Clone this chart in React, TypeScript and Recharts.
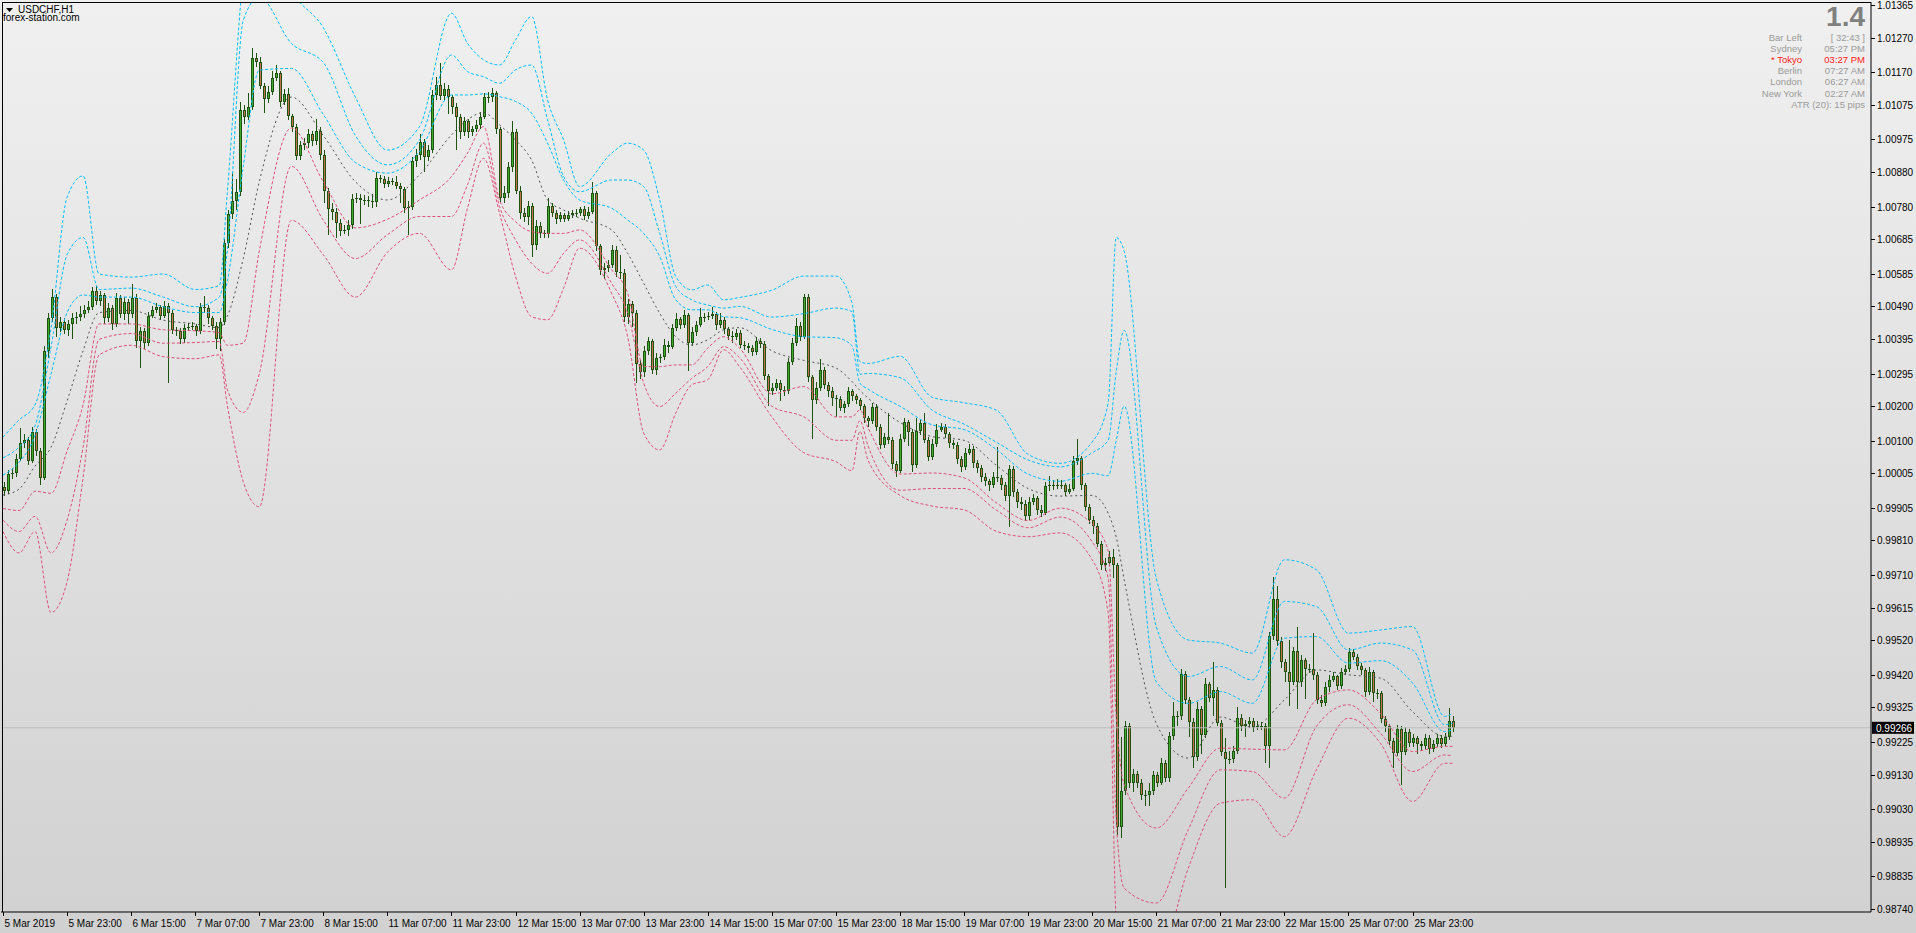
import React from "react";
import { Bar, ComposedChart, Line, ReferenceLine, XAxis, YAxis } from "recharts";

// USDCHF H1, 5 Mar - 26 Mar 2019. Prices are in points (1e-5).
const opens = [
  99964, 99953, 100003, 100005, 100048, 100093, 100101, 100042, 100126, 100070,
  99992, 100361, 100456, 100517, 100428, 100444, 100422, 100439, 100456, 100460,
  100467, 100478, 100489, 100534, 100506, 100523, 100456, 100486, 100439, 100515,
  100467, 100504, 100467, 100515, 100388, 100419, 100385, 100463, 100478, 100489,
  100463, 100492, 100472, 100422, 100419, 100394, 100428, 100430, 100433, 100419,
  100489, 100486, 100456, 100433, 100394, 100444, 100673, 100757, 100796, 100821,
  101059, 101040, 101070, 101212, 101200, 101131, 101092, 101114, 101154, 101167,
  101084, 101107, 101042, 101011, 100928, 100958, 100964, 100992, 100969, 101000,
  100930, 100824, 100774, 100763, 100732, 100709, 100712, 100727, 100802, 100804,
  100798, 100800, 100796, 100792, 100862, 100860, 100846, 100853, 100852, 100840,
  100830, 100775, 100778, 100911, 100930, 100966, 100923, 100944, 101104, 101133,
  101101, 101121, 101097, 101068, 101041, 100995, 101027, 100995, 101004, 101017,
  101041, 101097, 101099, 101109, 101004, 100804, 100819, 100896, 100996, 100826,
  100762, 100749, 100782, 100669, 100724, 100702, 100700, 100782, 100762, 100743,
  100756, 100745, 100756, 100761, 100762, 100772, 100753, 100765, 100819, 100664,
  100596, 100600, 100610, 100654, 100591, 100588, 100460, 100497, 100472, 100323,
  100298, 100359, 100388, 100306, 100340, 100342, 100378, 100371, 100427, 100453,
  100436, 100465, 100385, 100417, 100436, 100459, 100458, 100461, 100468, 100436,
  100451, 100424, 100404, 100400, 100414, 100378, 100374, 100368, 100357, 100389,
  100381, 100288, 100243, 100254, 100267, 100246, 100244, 100329, 100384, 100433,
  100402, 100516, 100285, 100218, 100254, 100306, 100262, 100243, 100223, 100222,
  100195, 100205, 100243, 100229, 100218, 100200, 100167, 100156, 100198, 100140,
  100086, 100110, 100101, 100032, 100013, 100104, 100153, 100125, 100029, 100127,
  100151, 100101, 100053, 100091, 100132, 100140, 100119, 100094, 100088, 100046,
  100024, 100065, 100077, 100036, 100021, 99995, 99982, 99970, 99995, 99992,
  99972, 99939, 100018, 99951, 99922, 99915, 99880, 99922, 99932, 99899,
  99891, 99967, 99970, 99971, 99969, 99972, 99951, 99961, 100042, 100049,
  99970, 99907, 99870, 99852, 99801, 99738, 99746, 99761, 99739, 98977,
  99081, 99272, 99107, 99132, 99107, 99071, 99072, 99081, 99129, 99107,
  99165, 99120, 99241, 99299, 99301, 99423, 99347, 99284, 99181, 99320,
  99246, 99394, 99352, 99376, 99281, 99197, 99175, 99174, 99199, 99294,
  99270, 99277, 99287, 99268, 99272, 99271, 99212, 99533, 99639, 99519,
  99456, 99429, 99400, 99488, 99400, 99463, 99436, 99437, 99420, 99347,
  99337, 99384, 99405, 99415, 99388, 99427, 99436, 99485, 99473, 99446,
  99434, 99371, 99429, 99366, 99367, 99291, 99270, 99229, 99194, 99262,
  99197, 99255, 99221, 99236, 99219, 99214, 99236, 99204, 99219, 99236,
  99219, 99239, 99287,
];

const highs = [
  99980, 100015, 100020, 100060, 100137, 100118, 100110, 100140, 100135, 100080,
  100375, 100470, 100539, 100525, 100460, 100455, 100450, 100470, 100475, 100490,
  100495, 100505, 100545, 100548, 100535, 100530, 100500, 100495, 100528, 100522,
  100518, 100512, 100556, 100525, 100430, 100428, 100475, 100490, 100500, 100495,
  100505, 100500, 100480, 100430, 100428, 100440, 100442, 100445, 100440, 100500,
  100520, 100495, 100462, 100445, 100455, 100685, 100770, 100880, 100860, 101085,
  101075, 101110, 101241, 101225, 101215, 101140, 101130, 101175, 101190, 101175,
  101120, 101125, 101050, 101020, 100970, 100980, 101005, 101000, 101033, 101010,
  100945, 100835, 100790, 100775, 100745, 100725, 100740, 100815, 100818, 100815,
  100812, 100810, 100815, 100880, 100872, 100868, 100865, 100862, 100868, 100848,
  100838, 100795, 100925, 100948, 100990, 100975, 100960, 101118, 101155, 101196,
  101140, 101132, 101105, 101080, 101050, 101040, 101035, 101015, 101030, 101055,
  101110, 101112, 101125, 101115, 101010, 100840, 100910, 101027, 101005, 100840,
  100775, 100795, 100790, 100740, 100735, 100712, 100805, 100790, 100770, 100765,
  100762, 100768, 100770, 100772, 100780, 100782, 100778, 100850, 100825, 100672,
  100615, 100625, 100668, 100665, 100640, 100598, 100510, 100505, 100480, 100335,
  100375, 100400, 100395, 100355, 100352, 100395, 100388, 100440, 100470, 100460,
  100478, 100470, 100430, 100448, 100485, 100470, 100475, 100488, 100475, 100470,
  100460, 100430, 100418, 100425, 100420, 100388, 100385, 100378, 100402, 100398,
  100390, 100295, 100268, 100280, 100275, 100258, 100340, 100398, 100455, 100445,
  100527, 100527, 100292, 100270, 100338, 100315, 100270, 100255, 100232, 100230,
  100215, 100255, 100250, 100235, 100225, 100205, 100172, 100210, 100205, 100148,
  100122, 100180, 100110, 100040, 100118, 100165, 100160, 100135, 100165, 100162,
  100180, 100110, 100104, 100148, 100152, 100148, 100125, 100102, 100095, 100055,
  100078, 100090, 100085, 100045, 100030, 100005, 99990, 100010, 100081, 100000,
  99980, 100030, 100025, 99960, 99935, 99928, 99935, 99945, 99940, 99912,
  99980, 99998, 99985, 99990, 99985, 99978, 99975, 100055, 100106, 100056,
  99978, 99915, 99880, 99862, 99808, 99760, 99780, 99785, 99745, 99240,
  99285, 99280, 99145, 99140, 99118, 99085, 99105, 99140, 99138, 99178,
  99172, 99255, 99340, 99315, 99436, 99430, 99355, 99295, 99340, 99330,
  99410, 99400, 99458, 99385, 99290, 99235, 99200, 99212, 99325, 99305,
  99290, 99298, 99295, 99285, 99282, 99280, 99545, 99705, 99678, 99530,
  99465, 99520, 99500, 99560, 99478, 99470, 99450, 99541, 99428, 99360,
  99398, 99418, 99428, 99420, 99440, 99448, 99498, 99495, 99480, 99455,
  99440, 99442, 99435, 99380, 99372, 99300, 99278, 99235, 99275, 99270,
  99268, 99262, 99248, 99242, 99228, 99248, 99245, 99232, 99248, 99245,
  99252, 99323, 99300,
];

const lows = [
  99940, 99945, 99990, 99995, 100040, 100080, 100030, 100035, 100055, 99970,
  99985, 100340, 100445, 100400, 100415, 100410, 100405, 100395, 100440, 100448,
  100455, 100470, 100480, 100495, 100490, 100440, 100445, 100420, 100430, 100455,
  100450, 100440, 100455, 100370, 100310, 100365, 100375, 100455, 100470, 100450,
  100455, 100266, 100410, 100405, 100380, 100385, 100418, 100420, 100405, 100410,
  100470, 100440, 100420, 100365, 100360, 100435, 100660, 100745, 100770, 100810,
  101020, 101030, 101060, 101185, 101120, 101053, 101080, 101105, 101145, 101070,
  101075, 101030, 100995, 100915, 100915, 100945, 100950, 100955, 100960, 100915,
  100790, 100696, 100740, 100690, 100695, 100700, 100695, 100715, 100790, 100730,
  100785, 100780, 100775, 100780, 100848, 100835, 100838, 100843, 100830, 100790,
  100760, 100698, 100770, 100895, 100915, 100880, 100912, 100935, 101090, 101088,
  101090, 101050, 101050, 100943, 100975, 100985, 100978, 100985, 100995, 101005,
  101035, 101082, 101085, 100990, 100790, 100790, 100805, 100880, 100815, 100745,
  100735, 100725, 100633, 100655, 100690, 100688, 100690, 100750, 100730, 100735,
  100735, 100738, 100748, 100750, 100752, 100742, 100745, 100758, 100650, 100580,
  100570, 100590, 100600, 100575, 100570, 100445, 100440, 100430, 100267, 100280,
  100285, 100350, 100295, 100290, 100325, 100335, 100355, 100365, 100418, 100425,
  100428, 100301, 100375, 100405, 100430, 100445, 100450, 100452, 100420, 100428,
  100410, 100392, 100385, 100392, 100368, 100362, 100355, 100345, 100350, 100370,
  100275, 100200, 100232, 100245, 100215, 100230, 100235, 100320, 100375, 100388,
  100395, 100270, 100106, 100205, 100245, 100250, 100228, 100200, 100168, 100185,
  100180, 100198, 100215, 100205, 100188, 100150, 100140, 100148, 100128, 100075,
  100078, 100090, 100018, 99995, 100005, 100095, 100085, 100010, 100020, 100115,
  100092, 100040, 100045, 100082, 100125, 100108, 100080, 100075, 100032, 100010,
  100015, 100058, 100020, 100005, 99980, 99968, 99955, 99962, 99980, 99958,
  99925, 99849, 99935, 99905, 99900, 99868, 99870, 99912, 99885, 99878,
  99885, 99955, 99958, 99960, 99960, 99940, 99945, 99955, 100030, 99958,
  99895, 99858, 99830, 99790, 99725, 99720, 99735, 99700, 98955, 98946,
  99070, 99090, 99080, 99090, 99055, 99040, 99040, 99070, 99095, 99100,
  99108, 99110, 99230, 99270, 99290, 99335, 99240, 99150, 99170, 99190,
  99235, 99340, 99300, 99270, 99185, 98800, 99160, 99165, 99190, 99258,
  99240, 99265, 99255, 99260, 99260, 99165, 99150, 99520, 99505, 99440,
  99400, 99330, 99390, 99320, 99385, 99350, 99425, 99405, 99335, 99325,
  99330, 99370, 99398, 99375, 99380, 99418, 99428, 99462, 99435, 99420,
  99355, 99360, 99340, 99350, 99280, 99255, 99215, 99150, 99185, 99100,
  99188, 99210, 99210, 99190, 99200, 99205, 99190, 99196, 99210, 99208,
  99212, 99232, 99255,
];

const closes = [
  99953, 100003, 100005, 100048, 100093, 100101, 100042, 100126, 100070, 99992,
  100361, 100456, 100517, 100428, 100444, 100422, 100439, 100456, 100460, 100467,
  100478, 100489, 100534, 100506, 100523, 100456, 100486, 100439, 100515, 100467,
  100504, 100467, 100515, 100388, 100419, 100385, 100463, 100478, 100489, 100463,
  100492, 100472, 100422, 100419, 100394, 100428, 100430, 100433, 100419, 100489,
  100486, 100456, 100433, 100394, 100444, 100673, 100757, 100796, 100821, 101059,
  101040, 101070, 101212, 101200, 101131, 101092, 101114, 101154, 101167, 101084,
  101107, 101042, 101011, 100928, 100958, 100964, 100992, 100969, 101000, 100930,
  100824, 100774, 100763, 100732, 100709, 100712, 100727, 100802, 100804, 100798,
  100800, 100796, 100792, 100862, 100860, 100846, 100853, 100852, 100840, 100830,
  100775, 100778, 100911, 100930, 100966, 100923, 100944, 101104, 101133, 101101,
  101121, 101097, 101068, 101041, 100995, 101027, 100995, 101004, 101017, 101041,
  101097, 101099, 101109, 101004, 100804, 100819, 100896, 100996, 100826, 100762,
  100749, 100782, 100669, 100724, 100702, 100700, 100782, 100762, 100743, 100756,
  100745, 100756, 100761, 100762, 100772, 100753, 100765, 100819, 100664, 100596,
  100600, 100610, 100654, 100591, 100588, 100460, 100497, 100472, 100323, 100298,
  100359, 100388, 100306, 100340, 100342, 100378, 100371, 100427, 100453, 100436,
  100465, 100385, 100417, 100436, 100459, 100458, 100461, 100468, 100436, 100451,
  100424, 100404, 100400, 100414, 100378, 100374, 100368, 100357, 100389, 100381,
  100288, 100243, 100254, 100267, 100246, 100244, 100329, 100384, 100433, 100402,
  100516, 100285, 100218, 100254, 100306, 100262, 100243, 100223, 100222, 100195,
  100205, 100243, 100229, 100218, 100200, 100167, 100156, 100198, 100140, 100086,
  100110, 100101, 100032, 100013, 100104, 100153, 100125, 100029, 100127, 100151,
  100101, 100053, 100091, 100132, 100140, 100119, 100094, 100088, 100046, 100024,
  100065, 100077, 100036, 100021, 99995, 99982, 99970, 99995, 99992, 99972,
  99939, 100018, 99951, 99922, 99915, 99880, 99922, 99932, 99899, 99891,
  99967, 99970, 99971, 99969, 99972, 99951, 99961, 100042, 100049, 99970,
  99907, 99870, 99852, 99801, 99738, 99746, 99761, 99739, 98977, 99081,
  99272, 99107, 99132, 99107, 99071, 99072, 99081, 99129, 99107, 99165,
  99120, 99241, 99299, 99301, 99423, 99347, 99284, 99181, 99320, 99246,
  99394, 99352, 99376, 99281, 99197, 99175, 99174, 99199, 99294, 99270,
  99277, 99287, 99268, 99272, 99271, 99212, 99533, 99639, 99519, 99456,
  99429, 99400, 99488, 99400, 99463, 99436, 99437, 99420, 99347, 99337,
  99384, 99405, 99415, 99388, 99427, 99436, 99485, 99473, 99446, 99434,
  99371, 99429, 99366, 99367, 99291, 99270, 99229, 99194, 99262, 99197,
  99255, 99221, 99236, 99219, 99214, 99236, 99204, 99219, 99236, 99219,
  99239, 99287, 99266,
];

// band indicator, read at these bar indices
const bandIdx = [
  0, 4, 8, 12, 16, 20, 24, 32, 40, 48,
  54, 56, 60, 64, 72, 80, 88, 96, 104, 112,
  116, 120, 124, 128, 132, 136, 140, 144, 152, 156,
  160, 164, 168, 172, 176, 180, 184, 192, 200, 208,
  212, 214, 216, 224, 232, 240, 248, 256, 264, 272,
  276, 278, 280, 288, 296, 304, 312, 320, 328, 336,
  344, 352, 360, 362,
];
const upper3 = [
  100110, 100160, 100204, 100428, 100807, 100869, 100584, 100575, 100584, 100539,
  100550, 100818, 101450, 101656, 101410, 101299, 101098, 100944, 101012, 101341,
  101254, 101206, 101191, 101264, 101332, 101090, 100973, 100838, 100935, 100964,
  100944, 100799, 100577, 100538, 100552, 100509, 100516, 100537, 100578, 100578,
  100501, 100329, 100324, 100345, 100226, 100210, 100189, 100060, 100034, 100096,
  100210, 100690, 100650, 99700, 99521, 99512, 99483, 99754, 99725, 99541,
  99550, 99560, 99299, 99308,
];
const upper2 = [
  100050, 100081, 100143, 100372, 100640, 100690, 100539, 100543, 100517, 100489,
  100517, 100651, 101321, 101388, 101254, 101198, 100986, 100901, 100973, 101220,
  101172, 101157, 101138, 101177, 101191, 101032, 100867, 100823, 100857, 100857,
  100838, 100702, 100548, 100509, 100494, 100485, 100490, 100459, 100469, 100485,
  100475, 100293, 100295, 100283, 100189, 100148, 100096, 100044, 100024, 100065,
  100101, 100300, 100420, 99560, 99415, 99444, 99405, 99633, 99618, 99492,
  99512, 99492, 99275, 99279,
];
const upper1 = [
  100000, 100037, 100115, 100294, 100472, 100523, 100517, 100517, 100489, 100472,
  100472, 100562, 100897, 101176, 101181, 101047, 100908, 100877, 100940, 101104,
  101104, 101107, 101099, 101085, 101051, 100964, 100857, 100799, 100775, 100741,
  100702, 100635, 100509, 100480, 100480, 100460, 100457, 100423, 100402, 100399,
  100376, 100267, 100250, 100200, 100146, 100132, 100075, 100003, 99982, 100005,
  99998, 100100, 100200, 99400, 99337, 99371, 99337, 99526, 99531, 99454,
  99461, 99396, 99255, 99260,
];
const middle = [
  99942, 99959, 100026, 100081, 100215, 100361, 100472, 100478, 100450, 100439,
  100428, 100461, 100629, 100852, 101098, 100986, 100852, 100799, 100872, 100988,
  101032, 101053, 101017, 100973, 100915, 100799, 100770, 100746, 100712, 100644,
  100557, 100470, 100402, 100378, 100393, 100422, 100428, 100361, 100333, 100311,
  100272, 100246, 100224, 100153, 100112, 100101, 100029, 99961, 99939, 99941,
  99889, 99820, 99696, 99279, 99178, 99297, 99268, 99347, 99434, 99420,
  99410, 99313, 99241, 99241,
];
const lower1 = [
  99903, 99897, 99953, 99947, 100070, 100204, 100439, 100439, 100422, 100419,
  100414, 100377, 100383, 100651, 101008, 100852, 100718, 100743, 100799, 100867,
  100935, 101012, 100799, 100736, 100707, 100702, 100702, 100712, 100596, 100528,
  100315, 100315, 100320, 100320, 100369, 100402, 100368, 100236, 100257, 100169,
  100169, 100189, 100138, 100003, 100006, 99992, 99920, 99868, 99904, 99858,
  99780, 99300, 99100, 98975, 99091, 99207, 99204, 99202, 99347, 99376,
  99308, 99197, 99212, 99212,
];
const lower2 = [
  99869, 99836, 99880, 99774, 99869, 100081, 100394, 100411, 100383, 100385,
  100388, 100249, 100182, 100294, 100897, 100740, 100629, 100698, 100751, 100751,
  100843, 100964, 100780, 100683, 100615, 100586, 100644, 100683, 100557, 100470,
  100267, 100199, 100238, 100281, 100315, 100373, 100340, 100200, 100169, 100101,
  100101, 100158, 100086, 99956, 99961, 99961, 99899, 99847, 99878, 99806,
  99700, 99000, 98800, 98757, 98970, 99144, 99139, 99062, 99270, 99333,
  99250, 99139, 99187, 99185,
];
const lower3 = [
  99836, 99774, 99836, 99601, 99690, 99992, 100349, 100377, 100344, 100338,
  100349, 100204, 99981, 99908, 100740, 100640, 100517, 100647, 100702, 100596,
  100775, 100920, 100761, 100577, 100460, 100451, 100543, 100659, 100528, 100402,
  100122, 100073, 100180, 100262, 100277, 100364, 100314, 100169, 100065, 100039,
  100013, 100127, 100044, 99941, 99910, 99899, 99837, 99821, 99832, 99754,
  99600, 98700, 98500, 98550, 98858, 99047, 99057, 98950, 99144, 99294,
  99221, 99052, 99163, 99163,
];

const timeTicks = [0, 16, 32, 48, 64, 80, 96, 112, 128, 144, 160, 176, 192, 208, 224, 240, 256, 272, 288, 304, 320, 336, 352];
const timeLabels = [
  "5 Mar 2019", "5 Mar 23:00", "6 Mar 15:00", "7 Mar 07:00", "7 Mar 23:00", "8 Mar 15:00",
  "11 Mar 07:00", "11 Mar 23:00", "12 Mar 15:00", "13 Mar 07:00", "13 Mar 23:00", "14 Mar 15:00",
  "15 Mar 07:00", "15 Mar 23:00", "18 Mar 15:00", "19 Mar 07:00", "19 Mar 23:00", "20 Mar 15:00",
  "21 Mar 07:00", "21 Mar 23:00", "22 Mar 15:00", "25 Mar 07:00", "25 Mar 23:00",
];
const priceTicks = [
  101365, 101270, 101170, 101075, 100975, 100880, 100780, 100685, 100585, 100490,
  100395, 100295, 100200, 100100, 100005, 99905, 99810, 99710, 99615, 99520,
  99420, 99325, 99225, 99130, 99030, 98935, 98835, 98740,
];
const lastPrice = 99266;

const infoLabels = ["Bar Left", "Sydney", "* Tokyo", "Berlin", "London", "New York"];
const infoValues = ["[ 32:43 ]", "05:27 PM", "03:27 PM", "07:27 AM", "06:27 AM", "02:27 AM"];

const FONT = '"Liberation Sans", Arial, sans-serif';
const WICK = "#1e5410";
const BULL = "#3dab2c";
const BEAR = "#c4704c";
const BLUE = "#00bfff";
const RED = "#de4f7a";
const MID = "#505050";
const SLOTS = 467; // chart has empty space on the right

const fmt = (v: number) => (v / 1e5).toFixed(5);

const rows: any[] = [];
for (let i = 0; i < SLOTS; i++) {
  const r: any = { i };
  if (i < closes.length) {
    r.o = opens[i];
    r.h = highs[i];
    r.l = lows[i];
    r.c = closes[i];
  }
  rows.push(r);
}
bandIdx.forEach((bi, k) => {
  Object.assign(rows[bi], {
    u3: upper3[k], u2: upper2[k], u1: upper1[k], m: middle[k],
    l1: lower1[k], l2: lower2[k], l3: lower3[k],
  });
});

function Candle(props: any) {
  const { x, y, width, height, payload } = props;
  if (!payload || payload.h == null) return null;
  const top = y;
  const bot = y + height;
  const span = payload.h - payload.l || 1;
  const py = (v: number) => top + ((payload.h - v) / span) * (bot - top);
  const cx = Math.round(x + width / 2);
  const yo = py(payload.o);
  const yc = py(payload.c);
  const bTop = Math.round(Math.min(yo, yc));
  const bH = Math.max(1, Math.round(Math.max(yo, yc)) - bTop);
  const up = payload.c >= payload.o;
  return (
    <g>
      <line x1={cx + 0.5} x2={cx + 0.5} y1={Math.round(top)} y2={Math.round(bot)} stroke={WICK} />
      <rect x={cx - 1} y={bTop} width={3} height={bH} fill={WICK} />
      {bH > 2 && <rect x={cx} y={bTop + 1} width={1} height={bH - 2} fill={up ? BULL : BEAR} />}
    </g>
  );
}

function TimeTick(props: any) {
  const { x, y, payload } = props;
  const k = timeTicks.indexOf(payload.value);
  if (k < 0) return null;
  const tx = Math.round(x) + 0.5;
  return (
    <g>
      <line x1={tx} x2={tx} y1={y} y2={y + 4} stroke="#000" />
      <text x={tx + 1} y={y + 15} fontSize={10} fontFamily={FONT} fill="#000">
        {timeLabels[k]}
      </text>
    </g>
  );
}

function PriceTick(props: any) {
  const { x, y, payload } = props;
  const ty = Math.round(y) + 0.5;
  return (
    <g>
      <line x1={x} x2={x + 4} y1={ty} y2={ty} stroke="#000" />
      <text x={x + 6} y={y + 4} fontSize={10} fontFamily={FONT} fill="#000">
        {fmt(payload.value)}
      </text>
    </g>
  );
}

function PriceLabel(props: any) {
  const vb = props.viewBox || {};
  const y = vb.y;
  const x = vb.x + vb.width;
  return (
    <g>
      <rect x={x + 1} y={y - 6} width={42} height={12} fill="#000" />
      <text x={x + 5} y={y + 4} fontSize={10} fontFamily={FONT} fill="#fff">
        {fmt(lastPrice)}
      </text>
    </g>
  );
}

const band = (key: string, color: string, dash: string) => (
  <Line
    key={key}
    dataKey={key}
    stroke={color}
    strokeWidth={1}
    strokeDasharray={dash}
    dot={false}
    activeDot={false}
    connectNulls
    type="monotone"
    isAnimationActive={false}
  />
);

export default function App() {
  return (
    <div
      style={{
        position: "fixed",
        left: 0,
        top: 0,
        width: 1916,
        height: 933,
        background: "linear-gradient(#f0f0f0, #d1d1d1)",
        fontFamily: FONT,
        overflow: "hidden",
      }}
    >
      <ComposedChart
        width={1916}
        height={933}
        data={rows}
        margin={{ top: 2, right: 0, bottom: 0, left: 1 }}
        barCategoryGap={0}
        barGap={0}
      >
        <XAxis
          dataKey="i"
          type="category"
          ticks={timeTicks}
          interval={0}
          tickSize={0}
          tickMargin={0}
          tickLine={false}
          axisLine={{ stroke: "#000" }}
          height={21}
          tick={(p: any) => <TimeTick {...p} />}
        />
        <YAxis
          orientation="right"
          type="number"
          domain={[98731, 101374]}
          allowDataOverflow
          ticks={priceTicks}
          interval={0}
          width={45}
          tickSize={0}
          tickMargin={0}
          tickLine={false}
          axisLine={{ stroke: "#000" }}
          tick={(p: any) => <PriceTick {...p} />}
        />
        <ReferenceLine y={lastPrice} stroke="#bdbdbd" label={(p: any) => <PriceLabel {...p} />} />
        <Bar
          dataKey={(d: any) => (d.h == null ? null : [d.l, d.h])}
          barSize={3}
          isAnimationActive={false}
          shape={(p: any) => <Candle {...p} />}
        />
        {band("u3", BLUE, "3 2")}
        {band("u2", BLUE, "3 2")}
        {band("u1", BLUE, "3 2")}
        {band("m", MID, "2 3")}
        {band("l1", RED, "3 2")}
        {band("l2", RED, "3 2")}
        {band("l3", RED, "3 2")}
      </ComposedChart>

      {/* frame */}
      <div style={{ position: "absolute", left: 2, top: 2, width: 1, height: 910, background: "#000" }} />
      <div style={{ position: "absolute", left: 2, top: 2, width: 1869, height: 1, background: "#000" }} />

      {/* symbol title */}
      <svg style={{ position: "absolute", left: 6, top: 8 }} width={8} height={5}>
        <polygon points="0,0 7,0 3.5,4" fill="#000" />
      </svg>
      <div style={{ position: "absolute", left: 18, top: 4, fontSize: 10, lineHeight: "11px", color: "#000" }}>
        USDCHF,H1
      </div>
      <div style={{ position: "absolute", left: 3, top: 12, fontSize: 10, lineHeight: "11px", color: "#000" }}>
        forex-station.com
      </div>

      {/* info panel */}
      <div
        style={{
          position: "absolute",
          right: 1916 - 1865,
          top: 3,
          fontSize: 28,
          fontWeight: "bold",
          lineHeight: "28px",
          color: "#808080",
        }}
      >
        1.4
      </div>
      {infoLabels.map((lab, k) => {
        const color = k === 2 ? "#ff2020" : "#9a9a9a";
        const top = 32 + k * 11.1;
        return (
          <React.Fragment key={lab}>
            <div style={{ position: "absolute", right: 1916 - 1802, top, fontSize: 9.5, lineHeight: "11px", color, whiteSpace: "nowrap" }}>
              {lab}
            </div>
            <div style={{ position: "absolute", right: 1916 - 1865, top, fontSize: 9.5, lineHeight: "11px", color, whiteSpace: "nowrap" }}>
              {infoValues[k]}
            </div>
          </React.Fragment>
        );
      })}
      <div style={{ position: "absolute", right: 1916 - 1865, top: 32 + 6 * 11.1, fontSize: 9.5, lineHeight: "11px", color: "#9a9a9a", whiteSpace: "nowrap" }}>
        ATR (20): 15 pips
      </div>
    </div>
  );
}
